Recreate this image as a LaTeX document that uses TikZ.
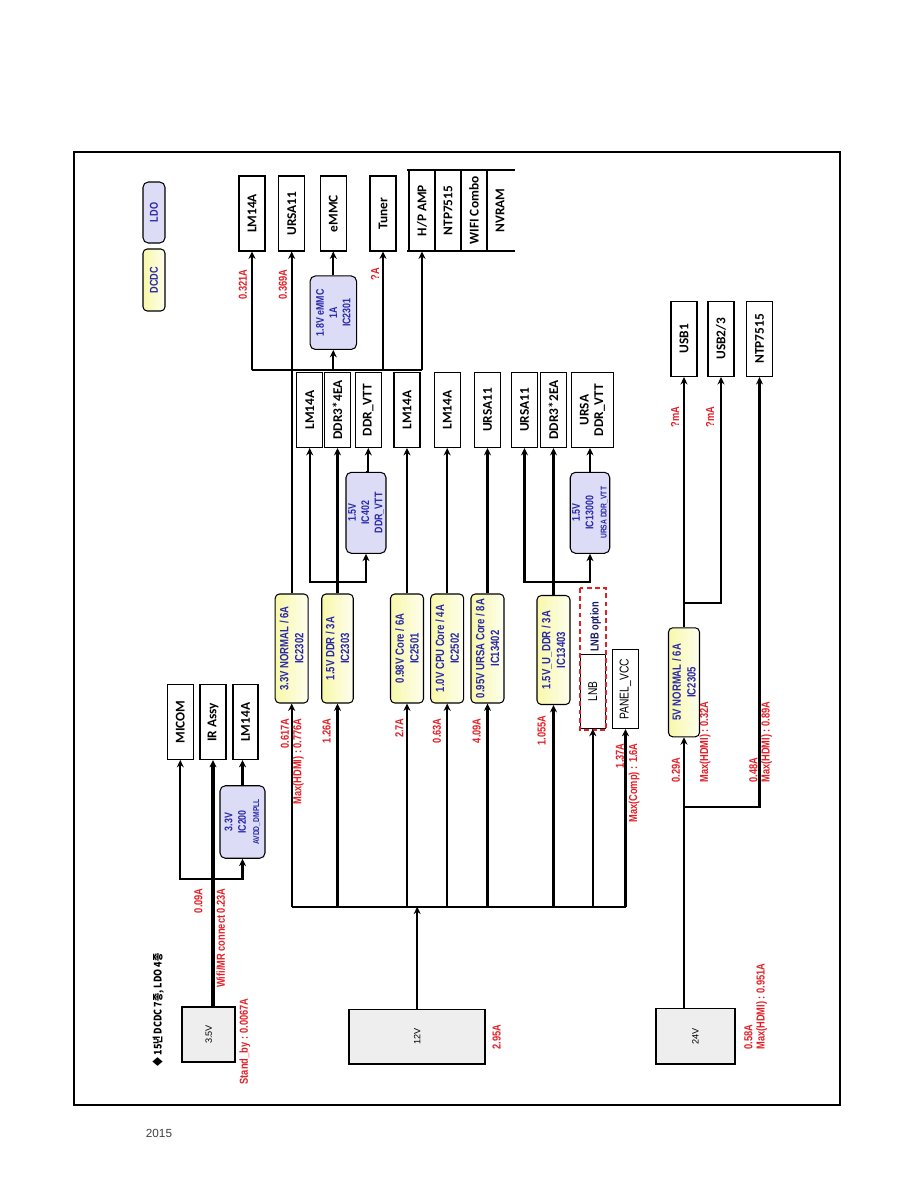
\documentclass[tikz,border=0pt]{standalone}
\usepackage{fontspec}
\setmainfont{Liberation Sans}
\newfontfamily\narfont[FakeStretch=0.8]{Liberation Sans}
\newfontfamily\calfont{Carlito}
\newfontfamily\krfont[FakeStretch=0.85]{Noto Sans CJK KR}
\usetikzlibrary{arrows.meta}
\definecolor{ampred}{RGB}{228,30,38}
\definecolor{icblue}{RGB}{40,40,170}
\definecolor{dcdcfill}{RGB}{248,248,170}
\definecolor{ldofill}{RGB}{220,220,246}
\definecolor{pwrfill}{RGB}{238,238,238}
\tikzset{
  load/.style={draw, line width=0.6pt, rotate=90, inner sep=0pt, align=center,
    font=\calfont\bfseries\fontsize{7.6}{8.3}\selectfont, minimum width=1.5cm, minimum height=0.52cm},
  dcdc/.style={draw, line width=0.6pt, rounded corners=2.4pt, rotate=90, inner sep=0pt, align=center,
    left color=dcdcfill, right color=dcdcfill!20, text=icblue,
    font=\narfont\bfseries\fontsize{6.8}{8.5}\selectfont, minimum width=2.18cm, minimum height=0.66cm},
  ldo/.style={draw, line width=0.6pt, rounded corners=3pt, rotate=90, inner sep=0pt, align=center,
    fill=ldofill, text=icblue, font=\narfont\bfseries\fontsize{6.3}{7.6}\selectfont},
  pwr/.style={draw, line width=1.1pt, rotate=90, inner sep=0pt, fill=pwrfill,
    font=\fontsize{5.2}{6}\selectfont},
  amp/.style={rotate=90, inner sep=0pt, text=ampred, font=\narfont\bfseries\fontsize{6.6}{7}\selectfont},
  feed/.style={line width=1.3pt},
  mainfeed/.style={line width=2.1pt},
}

\begin{document}
\begin{tikzpicture}[x=0.02cm, y=-0.02cm, >={Stealth[length=4.2pt,width=4pt]}]
  \useasboundingbox (0,0) rectangle (914,1191);
  \draw[line width=0.6pt] (74,152) rectangle (840,1105);
  \node[font=\fontsize{6.7}{8}\selectfont, text=black!75] (yr) at (159,1133) {2015};

  \coordinate (busT) at (0,370);
  \coordinate (brB) at (0,581.7);
  \coordinate (brD) at (0,602.7);
  \coordinate (brC) at (0,806.7);
  \coordinate (brA) at (0,879.3);
  \coordinate (bus12) at (0,906.7);

  \node[ldo, minimum width=1.22cm, minimum height=0.44cm, font=\narfont\bfseries\fontsize{6.5}{7}\selectfont] (legLDO) at (154,212.5) {LDO};
  \node[dcdc, minimum width=1.24cm, minimum height=0.44cm, font=\narfont\bfseries\fontsize{6.5}{7}\selectfont] (legDCDC) at (154,280) {DCDC};
  \node[rotate=90, anchor=west, inner sep=0pt, font=\krfont\bfseries\fontsize{6}{7}\selectfont] (note) at (158.3,1066.7) {◆ 15년 DCDC 7종, LDO 4종};

  \node[load] (ldA) at (252,213.5) {LM14A};
  \node[load] (ldB) at (291.7,213.5) {URSA11};
  \node[load] (ldC) at (333.3,213.5) {eMMC};
  \node[load] (ldD) at (383,213.5) {Tuner};
  \node[load, draw=none, minimum width=1.62cm] (hp) at (422,210.5) {H/P AMP};
  \node[load, draw=none, minimum width=1.62cm] (ntpA) at (448,210.5) {NTP7515};
  \node[load, draw=none, minimum width=1.62cm] (wifi) at (474,210.5) {WIFI Combo};
  \node[load, draw=none, minimum width=1.62cm] (nvram) at (500,210.5) {NVRAM};
  \draw[line width=0.6pt] (407,170) -- (515,170) (407,251) -- (515,251);
  \foreach \xx in {409,435,461,487}
    \draw[line width=0.6pt] (\xx,170) -- (\xx,251);

  \node[load] (lA) at (309.7,410) {LM14A};
  \node[load] (lB) at (337.5,410) {DDR3*4EA};
  \node[load] (lC) at (368.3,410) {DDR\_VTT};
  \node[load] (lD) at (407,410) {LM14A};
  \node[load] (lE) at (447.2,410) {LM14A};
  \node[load] (lF) at (487.5,410) {URSA11};
  \node[load] (lG) at (524.5,410) {URSA11};
  \node[load] (lH) at (553.5,410) {DDR3*2EA};
  \node[load, minimum height=0.83cm] (lI) at (592.5,410) {URSA\\DDR\_VTT};

  \node[dcdc] (dA) at (291.7,648.5) {3.3V NORMAL / 6A\\IC2302};
  \node[dcdc, minimum height=0.63cm] (dB) at (337.5,648.5) {1.5V DDR / 3A\\IC2303};
  \node[dcdc] (dC) at (407,648.5) {0.98V Core / 6A\\IC2501};
  \node[dcdc] (dD) at (447.2,648.5) {1.0V CPU Core / 4A\\IC2502};
  \node[dcdc] (dE) at (487.5,648.5) {0.95V URSA Core / 8A\\IC13402};
  \node[dcdc] (dF) at (553.5,650) {1.5V\_U\_DDR / 3A\\IC13403};
  \node[dcdc, minimum height=0.62cm] (dG) at (684,682.3) {5V NORMAL / 6A\\IC2305};

  \node[ldo, minimum width=1.47cm, minimum height=0.93cm] (ldoA) at (333.3,312.7) {1.8V eMMC\\1A\\IC2301};
  \node[ldo, minimum width=1.62cm, minimum height=0.8cm] (ldoB) at (366,512.8) {1.5V\\IC402\\DDR\_VTT};
  \node[ldo, minimum width=1.62cm, minimum height=0.79cm] (ldoC) at (590,512.8) {1.5V\\IC13000\\{\fontsize{4.8}{5.5}\selectfont URSA DDR\_VTT}};
  \node[ldo, minimum width=1.45cm, minimum height=0.9cm] (ldoD) at (242.5,822) {3.3V\\IC200\\{\fontsize{4.8}{5.5}\selectfont AVDD\_DMPLL}};

  \node[load, minimum width=1.49cm] (sA) at (180.3,722.2) {MICOM};
  \node[load, minimum width=1.49cm] (sB) at (213,722.2) {IR Assy};
  \node[load, minimum width=1.49cm, minimum height=0.5cm] (sC) at (245.5,722.2) {LM14A};

  \node[load, minimum width=1.48cm, minimum height=0.51cm, font=\narfont\fontsize{7.3}{8}\selectfont] (lnb) at (592.8,691.3) {LNB};
  \draw[ampred, line width=1.1pt, dash pattern=on 2.8pt off 1.8pt] (580,588.3) rectangle (605.7,730);
  \node[rotate=90, inner sep=0pt, text=icblue!60!black, font=\narfont\bfseries\fontsize{6.6}{7}\selectfont] (lnbopt) at (595.7,627) {LNB option};
  \node[load, minimum width=1.57cm, minimum height=0.51cm, font=\narfont\fontsize{7.3}{8}\selectfont] (panel) at (625.5,689.2) {PANEL\_VCC};

  \node[load, minimum width=1.51cm] (uA) at (684,338.8) {USB1};
  \node[load, minimum width=1.51cm] (uB) at (721,338.8) {USB2/3};
  \node[load, minimum width=1.51cm] (uC) at (759.5,338.8) {NTP7515};

  \node[pwr, minimum width=1.09cm, minimum height=1.05cm] (p35) at (208.7,1034.5) {3.5V};
  \node[pwr, minimum width=1.09cm, minimum height=2.71cm] (p12) at (417.2,1036.7) {12V};
  \node[pwr, minimum width=1.11cm, minimum height=1.58cm] (p24) at (695.5,1036.2) {24V};

  \draw[feed] (ldA |- busT) -- (hp |- busT);
  \draw[feed, ->] (ldA |- busT) -- (ldA.west);
  \draw[feed, ->] (ldoA |- busT) -- (ldoA.west);
  \draw[feed, ->] (ldD |- busT) -- (ldD.west);
  \draw[feed, ->] (hp |- busT) -- (hp.west);
  \draw[feed, ->] (ldoA.east) -- (ldC.west);

  \draw[mainfeed, ->] (p35.east -| sB) -- (sB.west);
  \draw[feed, <->] (sA.west) -- (sA |- brA) -- (ldoD |- brA) -- (ldoD.west);
  \draw[feed, ->] (ldoD.east) -- (ldoD.east |- sC.west);

  \draw[feed, ->] (p12.east) -- (p12 |- bus12);
  \draw[feed] (dA |- bus12) -- (panel |- bus12);
  \foreach \nn in {dA,dB,dC,dD,dE,dF,lnb}
    \draw[feed, ->] (\nn |- bus12) -- (\nn.west);
  \draw[mainfeed, ->] (panel |- bus12) -- (panel.west);

  \draw[feed, ->] (dA.east) -- (ldB.west);
  \draw[feed, ->] (dB.east) -- (lB.west);
  \draw[feed, <->] (lA.west) -- (lA |- brB) -- (ldoB |- brB) -- (ldoB.west);
  \draw[feed, ->] (ldoB.east) -- (lC.west |- ldoB.east) -- (lC.west);
  \draw[feed, ->] (dC.east) -- (lD.west);
  \draw[feed, ->] (dD.east) -- (lE.west);
  \draw[feed, ->] (dE.east) -- (lF.west);
  \draw[feed, ->] (dF.east) -- (lH.west);
  \draw[feed, <->] (lG.west) -- (lG |- brB) -- (ldoC |- brB) -- (ldoC.west);
  \draw[feed, ->] (ldoC.east) -- (ldoC.east |- lI.west);

  \draw[feed, ->] (p24.east -| dG) -- (dG.west);
  \draw[feed, ->] (dG |- brC) -- (uC |- brC) -- (uC.west);
  \draw[feed, ->] (dG.east) -- (uA.west);
  \draw[feed, ->] (dG |- brD) -- (uB |- brD) -- (uB.west);

  \node[amp, anchor=west] (aA) at (243,300) {0.321A};
  \node[amp, anchor=west] (aB) at (283,300) {0.369A};
  \node[amp, anchor=west] (aC) at (375,281) {?A};
  \node[amp, anchor=east] (aD) at (198.3,888) {0.09A};
  \node[amp, anchor=east] (aE) at (220.7,888) {Wifi/MR connect 0.23A};
  \node[amp, anchor=east] (aF) at (245,998) {Stand\_by : 0.0067A};
  \node[amp, anchor=east] (aG) at (285,718) {0.617A};
  \node[amp, anchor=east] (aH) at (298.3,718) {Max(HDMI) : 0.776A};
  \node[amp, anchor=east] (aI) at (326.7,718) {1.26A};
  \node[amp, anchor=east] (aJ) at (399.3,718) {2.7A};
  \node[amp, anchor=east] (aK) at (437,718) {0.63A};
  \node[amp, anchor=east] (aL) at (476.7,718) {4.09A};
  \node[amp, anchor=east] (aM) at (541.7,715) {1.055A};
  \node[amp, anchor=east] (aN) at (620,743) {1.37A};
  \node[amp, anchor=east] (aO) at (634,743) {Max(Comp) : 1.6A};
  \node[amp, anchor=west] (aP) at (676,783) {0.29A};
  \node[amp, anchor=west] (aQ) at (705,783) {Max(HDMI) : 0.32A};
  \node[amp, anchor=west] (aR) at (753.3,783) {0.48A};
  \node[amp, anchor=west] (aS) at (766.7,783) {Max(HDMI) : 0.89A};
  \node[amp, anchor=west] (aT) at (496.7,1050) {2.95A};
  \node[amp, anchor=west] (aU) at (748.3,1050) {0.58A};
  \node[amp, anchor=west] (aV) at (761.7,1050) {Max(HDMI) : 0.951A};
  \node[amp, anchor=west] (aW) at (675,428) {?mA};
  \node[amp, anchor=west] (aX) at (710,428) {?mA};
\end{tikzpicture}
\end{document}
